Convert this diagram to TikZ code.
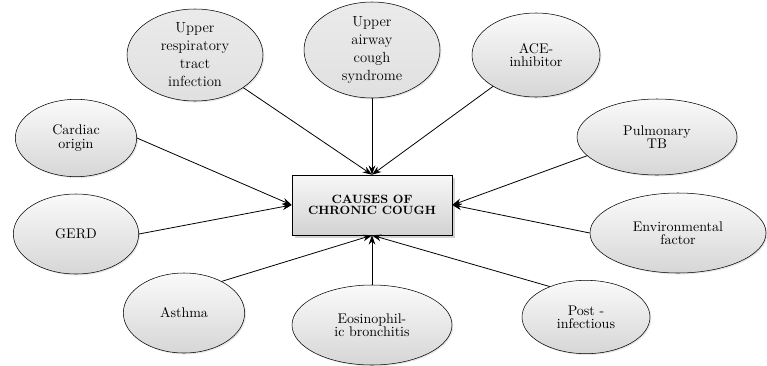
\documentclass[tikz,border=0pt]{standalone}
\usepackage{tikz}
\usetikzlibrary{arrows.meta,positioning,shapes.geometric,shadows}

\begin{document}
\begin{tikzpicture}[x=0.75pt,y=-0.75pt,
    cause/.style={ellipse, draw, thin, top color=gray!4, bottom color=gray!32,
      align=center, inner sep=0pt, font=\fontsize{10.5}{10}\selectfont,
      drop shadow={opacity=0.2, shadow xshift=1pt, shadow yshift=-1pt}},
    bigcause/.style={cause, top color=gray!16, bottom color=gray!24,
      inner ysep=-8pt, font=\fontsize{11}{13.5}\selectfont},
    hub/.style={rectangle, draw, top color=gray!6, bottom color=gray!35,
      minimum width=120pt, minimum height=45pt, align=center,
      font=\fontsize{9}{8.5}\selectfont\bfseries,
      drop shadow={opacity=0.35, shadow xshift=2pt, shadow yshift=-2pt}},
    feed/.style={-{Stealth[length=7pt,width=5pt]}, semithick}]
    \useasboundingbox (0,0) rectangle (767,365);
    % Centre box
    \node[hub] (core) at (372,205) {CAUSES OF\\CHRONIC COUGH};
    % Top row
    \node[bigcause, minimum width=102pt, minimum height=69pt]
      (urti) at (195,55) {Upper\\respiratory\\tract\\infection};
    \node[bigcause, minimum width=102pt, minimum height=72pt]
      (uacs) at (372,50) {Upper\\airway\\cough\\syndrome};
    \node[cause, minimum width=96pt, minimum height=63pt]
      (ace) at (536,55) {ACE-\\inhibitor};
    % Left side
    \node[cause, minimum width=91pt, minimum height=58pt]
      (cardiac) at (76,138) {Cardiac\\origin};
    \node[cause, minimum width=94pt, minimum height=60pt]
      (gerd) at (76,234) {GERD};
    % Right side
    \node[cause, minimum width=120pt, minimum height=57pt]
      (tb) at (657,137) {Pulmonary\\TB};
    \node[cause, minimum width=132pt, minimum height=60pt]
      (env) at (678,233) {Environmental\\factor};
    % Bottom row
    \node[cause, minimum width=91pt, minimum height=60pt]
      (asthma) at (184,313) {Asthma};
    \node[cause, minimum width=120pt, minimum height=60pt]
      (eosin) at (372,325) {Eosinophil-\\ic bronchitis};
    \node[cause, minimum width=96pt, minimum height=55pt]
      (postinf) at (586,317) {Post -\\infectious};
    % Arrows into the box
    \draw[feed] (urti) -- (core.north);
    \draw[feed] (uacs) -- (core.north);
    \draw[feed] (ace) -- (core.north);
    \draw[feed] (cardiac.east) -- (core.west);
    \draw[feed] (gerd.east) -- (core.west);
    \draw[feed] (tb.195) -- (core.east);
    \draw[feed] (env.west) -- (core.east);
    \draw[feed] (asthma.40) -- (core.south);
    \draw[feed] (eosin) -- (core.south);
    \draw[feed] (postinf.140) -- (core.south);
\end{tikzpicture}
\end{document}
